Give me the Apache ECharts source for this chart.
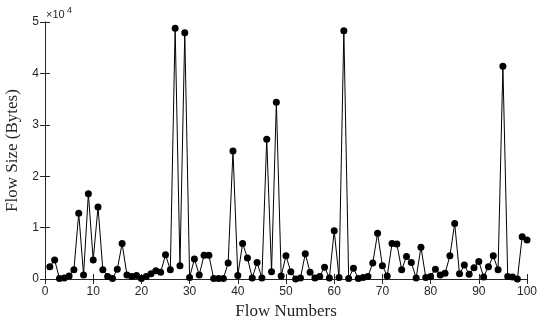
<!DOCTYPE html>
<html>
<head>
<meta charset="utf-8">
<script src="https://cdn.jsdelivr.net/npm/echarts@6/dist/echarts.min.js"></script>
<style>html,body{margin:0;padding:0;background:#fff;}#c{width:543px;height:322px;}</style>
</head>
<body>
<div id="c"></div>
<script>
// Flow sizes in units of 1e4 bytes, flows 1..100
const flowNumbers = Array.from({length: 100}, (_, i) => i + 1);
const flowSizes = [
  0.24, 0.37, 0.01, 0.02, 0.06, 0.18, 1.28, 0.08, 1.66, 0.37,
  1.40, 0.18, 0.05, 0.01, 0.19, 0.69, 0.08, 0.05, 0.07, 0.01,
  0.05, 0.10, 0.16, 0.13, 0.47, 0.18, 4.88, 0.26, 4.79, 0.03,
  0.39, 0.08, 0.46, 0.46, 0.01, 0.01, 0.01, 0.31, 2.49, 0.07,
  0.69, 0.41, 0.02, 0.32, 0.02, 2.72, 0.14, 3.44, 0.06, 0.45,
  0.14, 0.00, 0.02, 0.49, 0.13, 0.02, 0.05, 0.23, 0.02, 0.94,
  0.03, 4.83, 0.01, 0.21, 0.01, 0.03, 0.05, 0.31, 0.89, 0.26,
  0.06, 0.69, 0.68, 0.18, 0.44, 0.32, 0.02, 0.62, 0.03, 0.05,
  0.19, 0.08, 0.11, 0.45, 1.08, 0.10, 0.27, 0.09, 0.22, 0.34,
  0.04, 0.24, 0.45, 0.18, 4.14, 0.05, 0.04, 0.00, 0.82, 0.76
];
const xTitle = 'Flow Numbers';
const yTitle = 'Flow Size (Bytes)';
const multiplierLabel = '×10';
const exponentLabel = '4';

const chart = echarts.init(document.getElementById('c'));
const sans = 'Liberation Sans, Arial, sans-serif';
const serif = 'Liberation Serif, Times New Roman, serif';
const tickFont = {fontFamily: sans, fontSize: 12, color: '#262626'};
const axisLine = {show: true, lineStyle: {color: '#262626', width: 1}};
const tick = {show: true, inside: true, length: 5, lineStyle: {color: '#262626'}};
chart.setOption({
  animation: false,
  grid: {left: 45, right: 16, top: 22, bottom: 43, containLabel: false, outerBoundsMode: 'none'},
  xAxis: [{
    type: 'value', min: 0, max: 100, interval: 10,
    axisLine: axisLine, axisTick: tick, splitLine: {show: false},
    axisLabel: Object.assign({margin: 7}, tickFont),
    name: xTitle, nameLocation: 'middle', nameGap: 20,
    nameTextStyle: {fontFamily: serif, fontSize: 17, color: '#262626'}
  }, {
    type: 'value', min: 0, max: 100, interval: 10, position: 'top',
    axisLine: axisLine, axisTick: tick, axisLabel: {show: false}, splitLine: {show: false}
  }],
  yAxis: [{
    type: 'value', min: 0, max: 5, interval: 1,
    axisLine: axisLine, axisTick: tick, splitLine: {show: false},
    axisLabel: Object.assign({margin: 6}, tickFont),
    name: yTitle, nameLocation: 'middle', nameGap: 23,
    nameTextStyle: {fontFamily: serif, fontSize: 17, color: '#262626'}
  }, {
    type: 'value', min: 0, max: 5, interval: 1, position: 'right',
    axisLine: axisLine, axisTick: tick, axisLabel: {show: false}, splitLine: {show: false}
  }],
  graphic: [{
    type: 'text', left: 46, top: 9,
    style: {text: multiplierLabel, font: '11px ' + sans, fill: '#262626'}
  }, {
    type: 'text', left: 67, top: 6,
    style: {text: exponentLabel, font: '9px ' + sans, fill: '#262626'}
  }],
  series: [{
    type: 'line',
    data: flowNumbers.map((x, i) => [x, flowSizes[i]]),
    symbol: 'circle', symbolSize: 7,
    itemStyle: {color: '#000'},
    lineStyle: {color: '#000', width: 1},
    z: 5
  }]
});
</script>
</body>
</html>
